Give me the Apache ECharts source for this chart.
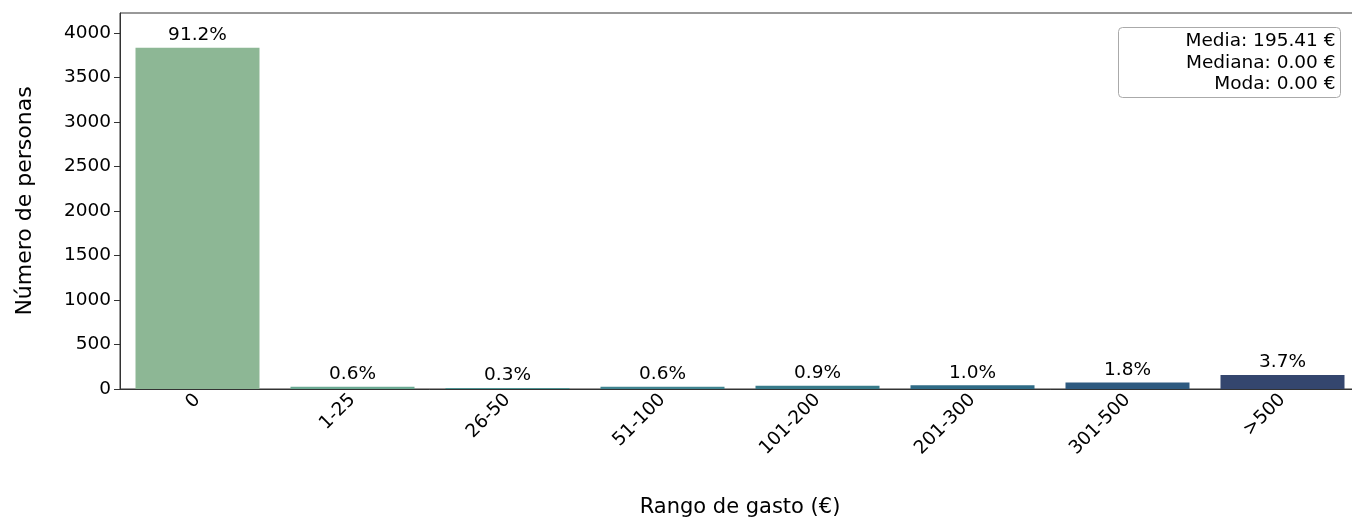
<!DOCTYPE html>
<html>
<head>
<meta charset="utf-8">
<script src="https://cdn.jsdelivr.net/npm/echarts@6/dist/echarts.min.js"></script>
<style>
  html, body { margin: 0; padding: 0; background: #fff; overflow: hidden; }
  #chart { width: 1368px; height: 523px; }
</style>
</head>
<body>
<div id="chart"></div>
<script>
// rangos de gasto y numero de personas en cada uno
var categories = ["0", "1-25", "26-50", "51-100", "101-200", "201-300", "301-500", ">500"];
var personas = [3835, 24, 12, 24, 37, 41, 74, 156];
var colores = ["#8db795", "#6aa992", "#4f9493", "#3f8490", "#387b8a", "#2f6b86", "#2e5a80", "#34466e"];
var yTicks = [0, 500, 1000, 1500, 2000, 2500, 3000, 3500, 4000];
var stats = ["Media: 195.41 €", "Mediana: 0.00 €", "Moda: 0.00 €"];

var total = personas.reduce(function (a, b) { return a + b; }, 0);
var font = "DejaVu Sans";

// el eje derecho queda fuera de la imagen, como en el original
var chart = echarts.init(document.getElementById("chart"));
var option = {
  animation: false,
  textStyle: { fontFamily: font, color: "#000" },
  grid: {
    left: 120, width: 1240, top: 13, height: 377,
    show: true, borderColor: "#333", borderWidth: 1, backgroundColor: "transparent"
  },
  xAxis: {
    type: "category",
    data: categories,
    name: "Rango de gasto (€)",
    nameLocation: "middle",
    nameGap: 108,
    nameTextStyle: { fontFamily: font, fontSize: 21, color: "#000" },
    axisLine: { lineStyle: { color: "#333", width: 1 } },
    axisTick: { alignWithLabel: true, length: 6, lineStyle: { color: "#333" } },
    axisLabel: { rotate: 45, fontFamily: font, fontSize: 18.5, color: "#000", margin: 8 }
  },
  yAxis: {
    type: "value",
    min: 0,
    max: 4224,
    interval: 500,
    name: "Número de personas",
    nameLocation: "middle",
    nameGap: 84,
    nameTextStyle: { fontFamily: font, fontSize: 22, color: "#000" },
    splitLine: { show: false },
    axisLine: { show: true, lineStyle: { color: "#333", width: 1 } },
    axisTick: { show: true, length: 6, lineStyle: { color: "#333" } },
    axisLabel: {
      fontFamily: font, fontSize: 18.5, color: "#000", margin: 9, showMaxLabel: false,
      formatter: function (v) { return yTicks.indexOf(v) >= 0 ? String(v) : ""; }
    }
  },
  series: [{
    type: "bar",
    data: personas.map(function (v, i) {
      return { value: v, itemStyle: { color: colores[i] } };
    }),
    barCategoryGap: "20%",
    label: {
      show: true,
      position: "top",
      distance: 3,
      fontFamily: font,
      fontSize: 18.5,
      color: "#000",
      formatter: function (p) { return (p.value / total * 100).toFixed(1) + "%"; }
    }
  }],
  graphic: [{
    type: "group",
    left: 1118,
    top: 27,
    children: [
      {
        type: "rect",
        shape: { x: 0, y: 0, width: 222, height: 70, r: 4 },
        style: { fill: "#fff", stroke: "#aaa", lineWidth: 1 }
      },
      {
        type: "text",
        x: 217,
        y: 3,
        style: {
          text: stats.join("\n"),
          align: "right",
          fill: "#000",
          font: "18.5px " + font,
          lineHeight: 21.5
        }
      }
    ]
  }]
};
chart.setOption(option);
</script>
</body>
</html>
